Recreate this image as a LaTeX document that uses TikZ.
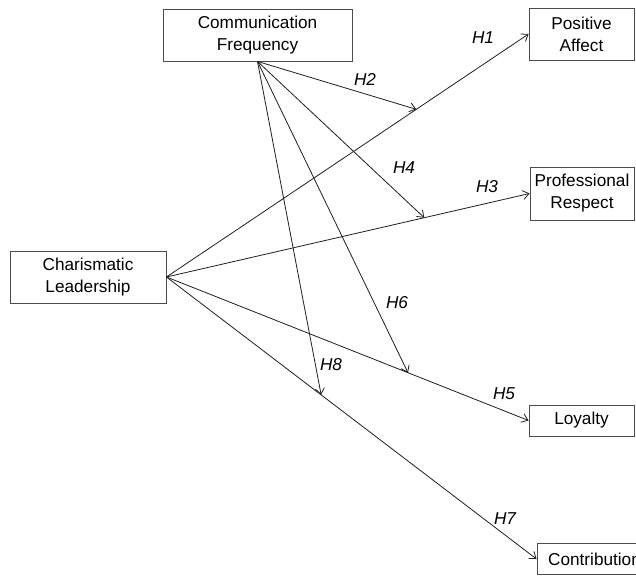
\documentclass[tikz,border=0pt]{standalone}
\usepackage{fontspec}
\setmainfont{Liberation Sans}
\usetikzlibrary{arrows.meta}
\begin{document}
\begin{tikzpicture}[x=1pt,y=-1pt]
\clip (0,0) rectangle (636,575);
\tikzstyle{box}=[draw=black!70, line width=0.9pt, align=center, inner sep=0pt,
                 font=\fontsize{17.2}{22}\selectfont]
\tikzstyle{hyp}=[inner sep=1pt, font=\fontsize{17.2}{22}\selectfont\itshape]
\tikzstyle{arr}=[draw=black!88, line width=0.8pt, -{Straight Barb[length=6pt,width=9pt]}]
\node[box, minimum width=189pt, minimum height=52pt](cf) at (257.5,35){Communication\\Frequency};
\node[box, minimum width=156pt, minimum height=52pt](cl) at (88,277){Charismatic\\Leadership};
\node[box, minimum width=105pt, minimum height=52pt](pa) at (581.5,34){Positive\\Affect};
\node[box, minimum width=104pt, minimum height=53pt](pr) at (582,193.5){Professional\\Respect};
\node[box, minimum width=105pt, minimum height=31pt](ly) at (581.5,420.5){Loyalty};
\node[box, minimum width=115pt, minimum height=31pt](ct) at (594.5,559){Contribution};
\foreach \to/\t/\m in {pa/0.69/m1, pr/0.71/m3, ly/0.667/m5, ct/0.418/m7}{
  \draw[arr] (cl.east) -- coordinate[pos=\t](\m) (\to.west);}
\foreach \m in {m1,m3,m5,m7}{\draw[arr] (cf.south) -- (\m);}
\node[hyp](h1) at (483,38){H1};
\node[hyp](h2) at (365,79){H2};
\node[hyp](h3) at (487,187){H3};
\node[hyp](h4) at (404,168){H4};
\node[hyp](h5) at (504,394){H5};
\node[hyp](h6) at (397,303){H6};
\node[hyp](h7) at (505,519){H7};
\node[hyp](h8) at (331,365){H8};
\end{tikzpicture}
\end{document}
